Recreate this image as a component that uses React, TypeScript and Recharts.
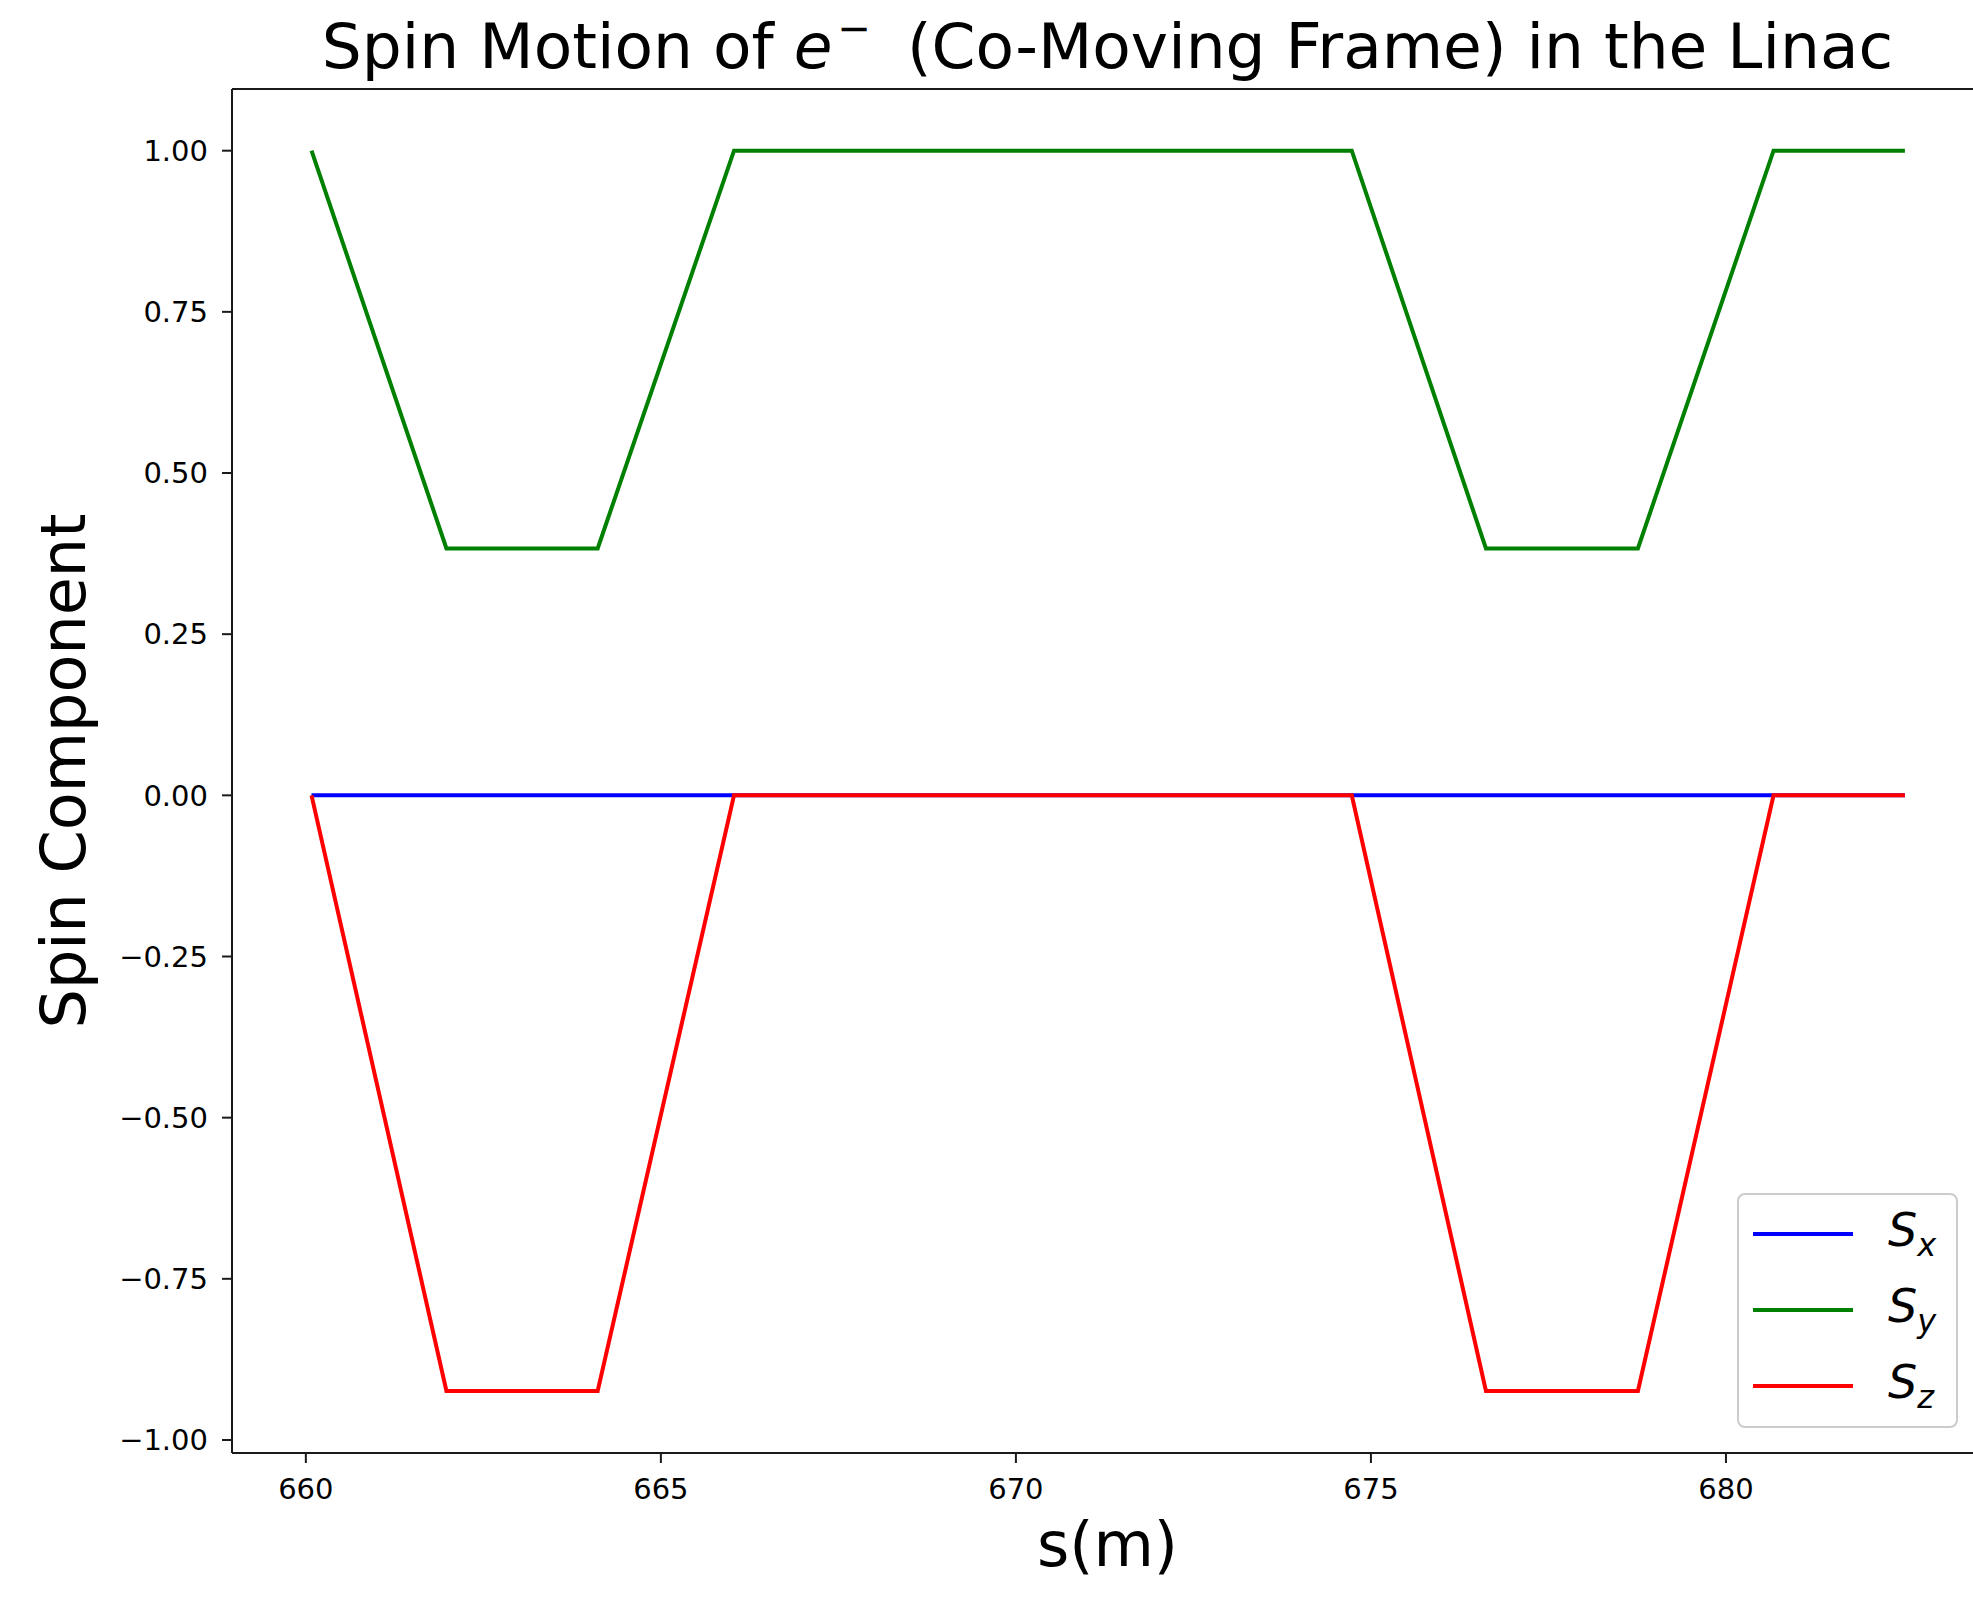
import { LineChart, Line, XAxis, YAxis, ReferenceLine, Legend } from "recharts";

// s positions (m) where the spin components change slope
const S_POS = [660.08, 661.98, 664.11, 666.03, 674.73, 676.62, 678.76, 680.67, 682.52];
const SX = [0, 0, 0, 0, 0, 0, 0, 0, 0];
const SY = [1, 0.383, 0.383, 1, 1, 0.383, 0.383, 1, 1];
const SZ = [0, -0.924, -0.924, 0, 0, -0.924, -0.924, 0, 0];

const X_TICKS = [660, 665, 670, 675, 680];
const Y_TICKS = [-1, -0.75, -0.5, -0.25, 0, 0.25, 0.5, 0.75, 1];
const X_DOMAIN = [658.96, 683.62];
const Y_DOMAIN = [-1.0202, 1.0957];

const SERIES = [
  { key: "sx", sub: "x", color: "#0000ff" },
  { key: "sy", sub: "y", color: "#008000" },
  { key: "sz", sub: "z", color: "#ff0000" },
];

const rows = S_POS.map((s, i) => ({ s, sx: SX[i], sy: SY[i], sz: SZ[i] }));

const FONT = '"DejaVu Sans", sans-serif';
const W = 2000;
const H = 1599;
const PLOT_LEFT = 232;
const PLOT_RIGHT = 1983;
const PLOT_TOP = 89;
const PLOT_BOTTOM = 1453;
const Y_AXIS_W = 200;
const X_AXIS_H = 146;

const fmtY = (v: number) => v.toFixed(2).replace("-", "\u2212");

function LegendBox(props: any) {
  const payload = props.payload || [];
  return (
    <div
      style={{
        boxSizing: "border-box",
        width: "100%",
        height: "100%",
        border: "2px solid #cccccc",
        borderRadius: 8,
        background: "rgba(255,255,255,0.8)",
        paddingTop: 1,
      }}
    >
      {payload.map((p: any) => (
        <div key={p.value} style={{ height: 76, display: "flex", alignItems: "center" }}>
          <div style={{ marginLeft: 14, width: 100, height: 4, background: p.color }} />
          <span style={{ marginLeft: 35, fontFamily: FONT, fontSize: 46, fontStyle: "italic", lineHeight: 1, color: "#000" }}>
            S
            <sub style={{ fontSize: 32, verticalAlign: "-0.3em" }}>{p.value}</sub>
          </span>
        </div>
      ))}
    </div>
  );
}

function YLabel(props: any) {
  const vb = props.viewBox || { x: 0, y: PLOT_TOP, width: 0, height: PLOT_BOTTOM - PLOT_TOP };
  const cy = vb.y + vb.height / 2;
  const x = 85;
  return (
    <text x={x} y={cy} transform={`rotate(-90, ${x}, ${cy})`} textAnchor="middle" fontFamily={FONT} fontSize={62} fill="#000">
      Spin Component
    </text>
  );
}

function XLabel(props: any) {
  const vb = props.viewBox || { x: PLOT_LEFT, y: PLOT_BOTTOM, width: PLOT_RIGHT - PLOT_LEFT, height: 0 };
  return (
    <text x={vb.x + vb.width / 2} y={vb.y + 113} textAnchor="middle" fontFamily={FONT} fontSize={62} fill="#000">
      s(m)
    </text>
  );
}

export default function App() {
  const axisStroke = { stroke: "#1a1a1a", strokeWidth: 2 };
  return (
    <div style={{ position: "absolute", left: 0, top: 0, width: 1973, height: 1599, overflow: "hidden", background: "#fff" }}>
      <LineChart
        width={W}
        height={H}
        data={rows}
        margin={{ top: PLOT_TOP, left: PLOT_LEFT - Y_AXIS_W, right: W - PLOT_RIGHT, bottom: H - PLOT_BOTTOM - X_AXIS_H }}
      >
        <XAxis
          dataKey="s"
          type="number"
          domain={X_DOMAIN}
          ticks={X_TICKS}
          allowDataOverflow
          height={X_AXIS_H}
          tickSize={10}
          tickMargin={15}
          axisLine={axisStroke}
          tickLine={axisStroke}
          tick={{ fill: "#000", fontSize: 29, fontFamily: FONT }}
          label={(p: any) => <XLabel {...p} />}
        />
        <YAxis
          type="number"
          domain={Y_DOMAIN}
          ticks={Y_TICKS}
          allowDataOverflow
          width={Y_AXIS_W}
          tickSize={10}
          tickMargin={14}
          tickFormatter={fmtY}
          axisLine={axisStroke}
          tickLine={axisStroke}
          tick={{ fill: "#000", fontSize: 29, fontFamily: FONT }}
          label={(p: any) => <YLabel {...p} />}
        />
        <ReferenceLine y={Y_DOMAIN[1]} stroke="#1a1a1a" strokeWidth={2} />
        {SERIES.map((s) => (
          <Line
            key={s.key}
            type="linear"
            dataKey={s.key}
            name={s.sub}
            stroke={s.color}
            strokeWidth={4}
            dot={false}
            activeDot={false}
            isAnimationActive={false}
          />
        ))}
        <Legend
          layout="horizontal"
          verticalAlign="middle"
          align="center"
          content={(p: any) => <LegendBox {...p} />}
          wrapperStyle={{ left: 1737, top: 1193, width: 221, height: 235, right: "auto", bottom: "auto" }}
        />
      </LineChart>
      <svg width={1973} height={100} style={{ position: "absolute", left: 0, top: 0 }}>
        <text x={(PLOT_LEFT + PLOT_RIGHT) / 2} y={68} textAnchor="middle" fontFamily={FONT} fontSize={63} fill="#000">
          Spin Motion of <tspan fontStyle="italic">e</tspan>
          <tspan fontSize={40} dx={5} dy={-26}>{"\u2212"}</tspan>
          <tspan dx={16} dy={26}> (Co-Moving Frame) in the Linac</tspan>
        </text>
      </svg>
    </div>
  );
}
